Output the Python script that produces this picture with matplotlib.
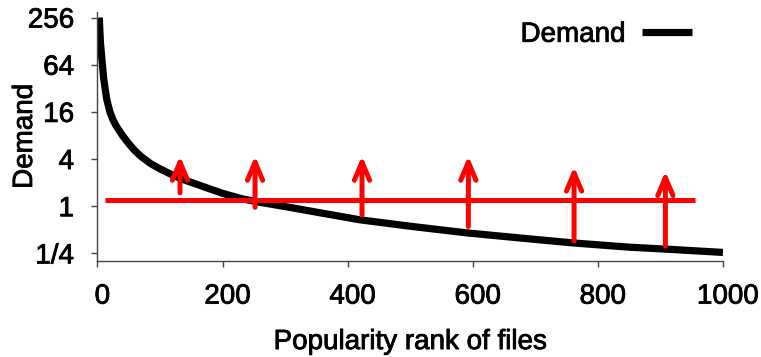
import matplotlib
matplotlib.use("Agg")
import matplotlib.pyplot as plt
import matplotlib.patheffects as pe
import matplotlib.transforms as mtransforms

plt.rcParams['font.family'] = ['Liberation Sans', 'DejaVu Sans']
FS = 20
heavy = [pe.withStroke(linewidth=0.6, foreground='black')]

# Demand curve (popularity rank vs demand)
rank = [3, 4, 5, 6.5, 8, 10, 12, 15, 20, 25, 30, 40, 50, 60, 70, 85, 100, 120, 140, 170,
        200, 230, 260, 300, 350, 420, 500, 590, 680, 760, 850, 920, 1000]
demand = [256, 169, 119, 87, 64, 43, 33, 23, 16, 12.6, 10.6, 8, 6.3, 5.1, 4.3, 3.5, 3.0, 2.5, 2.15, 1.77,
          1.46, 1.25, 1.12, 0.99, 0.84, 0.67, 0.555, 0.457, 0.39, 0.34, 0.30, 0.28, 0.257]

# Red horizontal line (uniform level)
flat_x = [12, 955]
flat_y = [1.2, 1.2]

# Red arrows: x position, start value, tip value
arrow_x = [132, 252, 423, 593, 762, 908]
arrow_from = [1.48, 0.97, 0.77, 0.55, 0.36, 0.31]
arrow_to = [4.4, 4.4, 4.4, 4.4, 3.2, 2.8]

yticks = [0.25, 1, 4, 16, 64, 256]
ytick_labels = ['1/4', '1', '4', '16', '64', '256']
xticks = [0, 200, 400, 600, 800, 1000]

fig = plt.figure(figsize=(7.61, 3.57), dpi=100)
ax = fig.add_axes([0.128, 0.269, 0.822, 0.697])

ax.plot(rank, demand, color='black', lw=5.2, solid_capstyle='butt', solid_joinstyle='round',
        label='Demand', zorder=2)
ax.plot(flat_x, flat_y, color='#ff0000', lw=3.6, solid_capstyle='butt', zorder=3)
for x, y0, y1 in zip(arrow_x, arrow_from, arrow_to):
    ax.annotate('', xy=(x, y1), xytext=(x, y0),
                arrowprops=dict(arrowstyle='->,head_length=1.3,head_width=0.55',
                                color='#ff0000', lw=3.6, shrinkA=0, shrinkB=0),
                zorder=4)

ax.set_yscale('log', base=2)
ax.set_ylim(0.2, 300)
ax.set_xlim(0, 1000)
ax.set_yticks(yticks)
ax.set_yticklabels(ytick_labels)
ax.set_xticks(xticks)
ax.minorticks_off()

for s in ['top', 'right']:
    ax.spines[s].set_visible(False)
for s in ['left', 'bottom']:
    ax.spines[s].set_color('#444444')
    ax.spines[s].set_linewidth(1.0)

ax.tick_params(axis='both', direction='out', length=4.3, width=1, color='#444444',
               labelsize=FS)
ax.tick_params(axis='x', pad=12)
ax.tick_params(axis='y', pad=12.5)
shift = mtransforms.ScaledTranslation(5 / 100, 0, fig.dpi_scale_trans)
for lab in ax.get_xticklabels():
    lab.set_transform(lab.get_transform() + shift)
for lab in ax.get_xticklabels() + ax.get_yticklabels():
    lab.set_path_effects(heavy)

ax.set_xlabel('Popularity rank of files', fontsize=FS, labelpad=14, path_effects=heavy)
ax.set_ylabel('Demand', fontsize=FS, path_effects=heavy)
ax.yaxis.set_label_coords(-0.095, 0.5)

leg = ax.legend(loc='upper right', frameon=False, markerfirst=False,
                handlelength=1.8, handletextpad=0.6, borderaxespad=0.0,
                bbox_to_anchor=(0.968, 1.006), prop={'size': FS})
for t in leg.get_texts():
    t.set_path_effects(heavy)

fig.savefig('out.png', dpi=100)
